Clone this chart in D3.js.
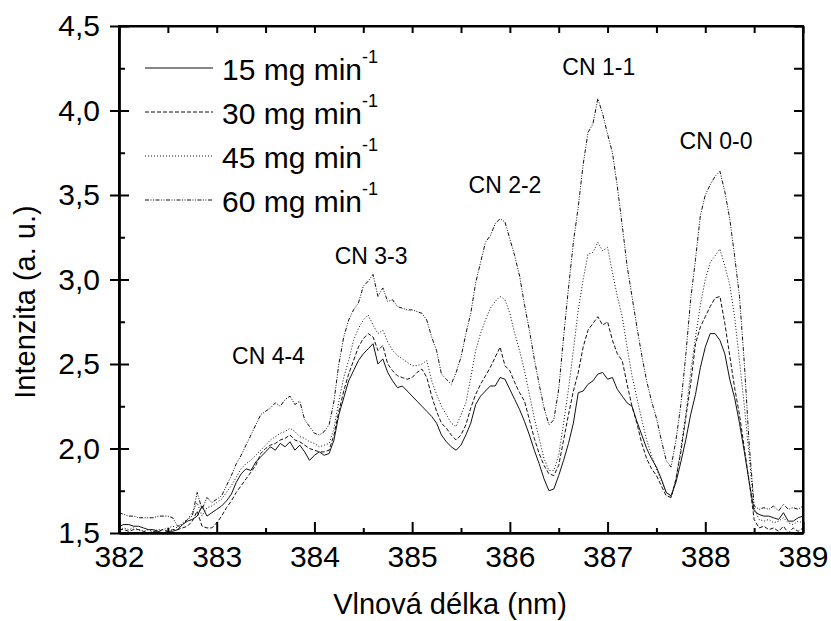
<!DOCTYPE html>
<html>
<head>
<meta charset="utf-8">
<script src="https://cdn.jsdelivr.net/npm/d3@7"></script>
<style>
  body { margin: 0; background: #fff; }
  svg { font-family: "Liberation Sans", Arial, sans-serif; }
</style>
</head>
<body>
<div id="chart"></div>
<script>
// spectra sampled every 0.05 nm from 382 to 389 nm
const wlStart = 382, wlStep = 0.05;

const int15 = [
  1.54,1.55,1.55,1.54,1.54,1.53,1.52,1.52,1.51,1.50,
  1.51,1.51,1.52,1.55,1.57,1.58,1.60,1.66,1.60,1.62,
  1.64,1.66,1.69,1.73,1.80,1.85,1.88,1.87,1.92,1.95,
  1.98,2.01,1.99,2.03,2.01,2.04,1.99,2.02,1.98,1.93,
  1.96,1.98,1.96,1.97,2.05,2.20,2.30,2.40,2.46,2.52,
  2.56,2.59,2.62,2.50,2.53,2.45,2.40,2.36,2.37,2.34,
  2.31,2.28,2.25,2.22,2.19,2.15,2.08,2.04,2.01,1.99,
  2.02,2.08,2.15,2.26,2.31,2.34,2.37,2.37,2.42,2.41,
  2.35,2.29,2.23,2.16,2.08,1.99,1.91,1.82,1.75,1.76,
  1.84,1.93,2.03,2.15,2.33,2.34,2.38,2.40,2.44,2.45,
  2.41,2.42,2.35,2.31,2.27,2.25,2.16,2.08,2.00,1.94,
  1.89,1.82,1.74,1.72,1.80,1.92,2.05,2.20,2.32,2.48,
  2.60,2.68,2.68,2.64,2.56,2.41,2.30,2.15,1.98,1.80,
  1.63,1.61,1.60,1.60,1.59,1.58,1.62,1.57,1.57,1.59,
  1.60
];
const int30 = [
  1.52,1.52,1.51,1.52,1.52,1.51,1.50,1.51,1.51,1.52,
  1.51,1.52,1.52,1.53,1.54,1.57,1.63,1.54,1.53,1.53,
  1.56,1.60,1.65,1.69,1.74,1.78,1.82,1.86,1.90,1.97,
  2.00,2.02,2.03,2.05,2.06,2.08,2.05,2.04,2.02,2.00,
  1.99,1.98,1.98,1.99,2.08,2.22,2.34,2.44,2.52,2.60,
  2.65,2.68,2.66,2.58,2.61,2.50,2.46,2.43,2.42,2.41,
  2.42,2.45,2.47,2.42,2.31,2.22,2.15,2.12,2.08,2.05,
  2.08,2.14,2.24,2.32,2.38,2.43,2.48,2.54,2.60,2.49,
  2.46,2.39,2.33,2.28,2.17,2.06,1.97,1.90,1.85,1.84,
  1.90,2.05,2.20,2.34,2.45,2.60,2.70,2.74,2.78,2.73,
  2.75,2.64,2.56,2.52,2.38,2.25,2.15,2.03,1.94,1.88,
  1.84,1.78,1.72,1.71,1.82,1.98,2.18,2.38,2.62,2.72,
  2.78,2.84,2.89,2.90,2.74,2.55,2.36,2.20,2.00,1.80,
  1.58,1.53,1.54,1.52,1.53,1.51,1.54,1.50,1.53,1.51,
  1.53
];
const int45 = [
  1.52,1.53,1.52,1.53,1.52,1.51,1.52,1.51,1.52,1.52,
  1.53,1.54,1.53,1.56,1.58,1.62,1.68,1.60,1.65,1.66,
  1.68,1.70,1.74,1.78,1.83,1.88,1.91,1.93,1.96,1.99,
  2.02,2.05,2.07,2.09,2.10,2.12,2.10,2.07,2.06,2.04,
  2.03,2.01,2.02,2.03,2.12,2.28,2.42,2.52,2.64,2.71,
  2.76,2.79,2.73,2.68,2.70,2.63,2.58,2.55,2.53,2.51,
  2.49,2.49,2.50,2.52,2.40,2.32,2.25,2.20,2.15,2.13,
  2.20,2.27,2.42,2.58,2.68,2.76,2.83,2.87,2.90,2.88,
  2.80,2.68,2.58,2.46,2.32,2.18,2.06,1.94,1.87,1.87,
  1.96,2.15,2.35,2.58,2.82,3.00,3.15,3.16,3.22,3.17,
  3.19,3.04,2.90,2.78,2.60,2.43,2.30,2.17,2.05,1.96,
  1.88,1.81,1.74,1.71,1.82,2.00,2.20,2.45,2.66,2.85,
  3.00,3.10,3.14,3.18,3.08,2.97,2.78,2.52,2.25,1.95,
  1.65,1.58,1.57,1.58,1.56,1.57,1.59,1.56,1.55,1.57,
  1.56
];
const int60 = [
  1.62,1.61,1.60,1.60,1.59,1.59,1.59,1.59,1.60,1.60,
  1.60,1.59,1.54,1.55,1.58,1.60,1.74,1.64,1.71,1.68,
  1.70,1.72,1.78,1.84,1.91,1.96,2.02,2.08,2.14,2.20,
  2.22,2.24,2.27,2.25,2.29,2.31,2.26,2.28,2.17,2.13,
  2.09,2.08,2.10,2.14,2.28,2.50,2.66,2.76,2.82,2.86,
  2.96,2.99,3.03,2.90,2.95,2.87,2.88,2.84,2.83,2.82,
  2.82,2.81,2.80,2.76,2.66,2.58,2.44,2.41,2.38,2.45,
  2.54,2.68,2.80,2.98,3.10,3.22,3.26,3.33,3.36,3.34,
  3.24,3.14,3.02,2.85,2.70,2.53,2.38,2.24,2.14,2.17,
  2.35,2.66,2.95,3.22,3.43,3.68,3.87,3.92,4.07,3.98,
  3.86,3.75,3.55,3.32,3.08,2.90,2.72,2.55,2.40,2.28,
  2.18,2.05,1.93,1.89,2.05,2.26,2.55,2.88,3.12,3.38,
  3.50,3.56,3.61,3.64,3.52,3.36,3.14,2.90,2.50,2.02,
  1.66,1.64,1.65,1.64,1.66,1.63,1.67,1.64,1.65,1.64,
  1.66
];

const seriesLabels = ['15 mg min', '30 mg min', '45 mg min', '60 mg min'];
const seriesDash = [null, '4,2', '1,2', '4,1.5,1,1.5,1,1.5'];

const peakNames = ['CN 4-4', 'CN 3-3', 'CN 2-2', 'CN 1-1', 'CN 0-0'];
const peakWl = [383.53, 384.58, 385.95, 386.91, 388.11];
const peakInt = [2.5, 3.09, 3.51, 4.21, 3.77];

const xTicks = [382, 383, 384, 385, 386, 387, 388, 389];
const yTicks = [1.5, 2.0, 2.5, 3.0, 3.5, 4.0, 4.5];

const width = 831, height = 621;
const margin = {left: 119, top: 26, right: 28, bottom: 88};
const plotW = width - margin.left - margin.right,
      plotH = height - margin.top - margin.bottom;

const x = d3.scaleLinear().domain([382, 389]).range([0, plotW]);
const y = d3.scaleLinear().domain([1.5, 4.5]).range([plotH, 0]);

const czech = d3.formatLocale({decimal: ',', thousands: ' ', grouping: [3], currency: ['', '']});
const fmt = czech.format('.1f');

const svg = d3.select('#chart').append('svg').attr('width', width).attr('height', height);
const g = svg.append('g').attr('transform', 'translate(' + margin.left + ',' + margin.top + ')');

g.append('clipPath').attr('id', 'clip')
  .append('rect').attr('width', plotW).attr('height', plotH);

// curves
const line = d3.line()
  .x((d, i) => x(wlStart + i * wlStep))
  .y(d => y(d));

[int15, int30, int45, int60].forEach((s, k) => {
  g.append('path')
    .attr('clip-path', 'url(#clip)')
    .attr('d', line(s))
    .attr('fill', 'none')
    .attr('stroke', '#111')
    .attr('stroke-width', 1)
    .attr('stroke-dasharray', seriesDash[k]);
});

// axes
const minorX = d3.range(382.5, 389, 1);
const minorY = d3.range(1.75, 4.5, 0.5);

g.append('g').attr('class', 'axis')
  .attr('transform', 'translate(0,' + plotH + ')')
  .call(d3.axisBottom(x).tickValues(xTicks).tickFormat(d3.format('d')).tickSizeInner(-11).tickSizeOuter(0).tickPadding(13));
g.append('g').attr('class', 'axis')
  .attr('transform', 'translate(0,' + plotH + ')')
  .call(d3.axisBottom(x).tickValues(minorX).tickFormat('').tickSizeInner(-5).tickSizeOuter(0));
g.append('g').attr('class', 'axis')
  .call(d3.axisTop(x).tickValues(xTicks.concat(minorX)).tickFormat('').tickSizeInner(-7).tickSizeOuter(0));

g.append('g').attr('class', 'axis')
  .call(d3.axisLeft(y).tickValues(yTicks).tickFormat(fmt).tickSizeInner(9).tickSizeOuter(0).tickPadding(10));
g.append('g').attr('class', 'axis')
  .call(d3.axisLeft(y).tickValues(yTicks).tickFormat('').tickSizeInner(-10).tickSizeOuter(0));
g.append('g').attr('class', 'axis')
  .call(d3.axisLeft(y).tickValues(minorY).tickFormat('').tickSizeInner(-6).tickSizeOuter(0));
g.append('g').attr('class', 'axis')
  .attr('transform', 'translate(' + plotW + ',0)')
  .call(d3.axisRight(y).tickValues(yTicks.concat(minorY)).tickFormat('').tickSizeInner(-9).tickSizeOuter(0));

g.selectAll('.axis path').attr('stroke', '#000').attr('stroke-width', 2);
g.selectAll('.axis line').attr('stroke', '#000').attr('stroke-width', 2);
g.selectAll('.axis text')
  .attr('font-family', '"Liberation Sans", Arial, sans-serif')
  .attr('font-size', 30)
  .attr('fill', '#000');

// frame
g.append('rect').attr('width', plotW).attr('height', plotH)
  .attr('fill', 'none').attr('stroke', '#000').attr('stroke-width', 2);

// axis titles
svg.append('text')
  .attr('x', 450).attr('y', 614)
  .attr('text-anchor', 'middle').attr('font-size', 29)
  .text('Vlnová délka (nm)');
svg.append('text')
  .attr('transform', 'translate(35,302) rotate(-90)')
  .attr('text-anchor', 'middle').attr('font-size', 29)
  .text('Intenzita (a. u.)');

// peak labels
g.selectAll('.peak').data(peakNames).join('text')
  .attr('class', 'peak')
  .attr('x', (d, i) => x(peakWl[i]))
  .attr('y', (d, i) => y(peakInt[i]))
  .attr('text-anchor', 'middle')
  .attr('font-size', 23)
  .text(d => d);

// legend
const legend = svg.append('g').attr('transform', 'translate(145,68)');
seriesLabels.forEach((lab, k) => {
  const row = legend.append('g').attr('transform', 'translate(0,' + (k * 44) + ')');
  row.append('line')
    .attr('x1', 0).attr('x2', 68)
    .attr('stroke', '#111').attr('stroke-width', 1)
    .attr('stroke-dasharray', seriesDash[k]);
  const t = row.append('text')
    .attr('x', 77).attr('y', 12)
    .attr('font-size', 30)
    .text(lab);
  t.append('tspan')
    .attr('dy', -17).attr('font-size', 18)
    .text('-1');
});
</script>
</body>
</html>
